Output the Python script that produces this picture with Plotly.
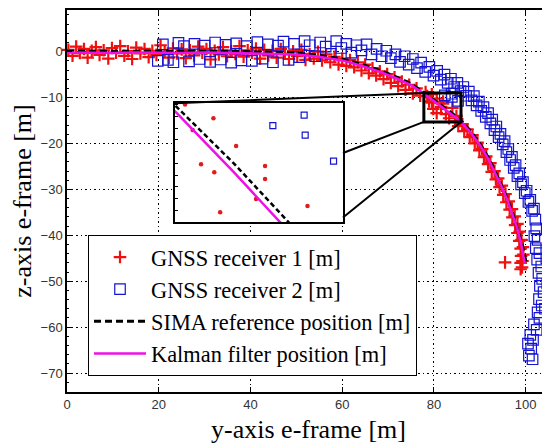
import plotly.graph_objects as go

# ---------------- data (y-axis e-frame, z-axis e-frame) ----------------
sima_y = [0, 5, 10, 15, 20, 25, 30, 35, 40, 45, 50, 55, 60, 64, 68, 72, 75, 77.8, 80.5, 83.1,
          85.6, 88, 90, 91.8, 93.3, 94.7, 96, 97.1, 98.2, 99.1, 99.7, 100.1]
sima_z = [0.1, 0.1, 0.1, 0.2, 0.1, 0.1, 0.1, 0.1, 0.0, -0.1, -0.3, -0.8, -1.6, -2.7, -4.0, -5.6,
          -7.0, -8.9, -10.8, -12.8, -14.7, -17.3, -20.0, -23.0, -26.0, -29.0, -32.0, -35.0,
          -38.3, -41.5, -44.0, -46.0]

kal_y = [0, 5, 10, 15, 20, 25, 30, 35, 40, 45, 50, 55, 60, 64, 68, 72, 75, 77.8, 80.5, 83.1,
         85.6, 88, 90, 91.8, 93.3, 94.7, 96, 97.1, 98.2, 99.0, 99.5, 99.8]
kal_z = [-0.2, -0.3, -0.3, -0.2, -0.3, -0.3, -0.2, -0.3, -0.3, -0.4, -0.6, -1.1, -1.9, -3.0,
         -4.3, -5.9, -7.3, -9.1, -11.1, -13.1, -15.0, -17.6, -20.3, -23.3, -26.3, -29.3, -32.3,
         -35.3, -38.6, -41.8, -44.3, -46.2]

gnss1_y = [0.3, 1.2, 2.0, 2.8, 3.7, 4.5, 5.4, 6.3, 7.1, 8.0, 9.0, 9.8, 10.7, 11.6, 12.5, 13.3,
           14.2, 15.1, 16.0, 16.9, 17.8, 18.6, 19.5, 20.4, 21.3, 22.2, 23.1, 24.0, 25.0, 25.9,
           26.8, 27.7, 28.6, 29.5, 30.4, 31.3, 32.2, 33.1, 34.0, 34.9, 35.8, 36.7, 37.6, 38.5,
           39.4, 40.3, 41.2, 42.1, 43.0, 43.9, 44.8, 45.7, 46.6, 47.5, 48.4, 49.3, 50.2, 51.1,
           52.0, 52.9, 53.8, 54.7,
           55.6, 56.5, 57.4, 58.3, 59.2, 60.0, 60.9, 61.7, 62.6, 63.4, 64.2, 65.0, 65.8, 66.6,
           67.4, 68.2, 69.0, 69.8, 70.6, 71.4, 72.2, 73.0, 73.8, 74.6, 75.4, 76.2, 77.0,
           78.18, 79.53, 78.54, 80.61, 78.94, 79.57, 81.99, 81.99, 81.56, 79.85, 84.01,
           80.6, 82.6, 83.3, 84.6, 85.3, 84.9,
           86.2, 86.6, 87.3, 87.8, 88.4, 88.9, 89.5, 89.9, 90.5, 90.9, 91.4, 91.8, 92.3, 92.6,
           93.2, 93.5, 94.0, 94.3, 94.8, 95.1, 95.6, 95.8, 96.3, 96.5, 97.0, 97.1, 97.6, 97.7,
           98.2, 98.2, 98.7, 98.6, 99.1, 98.9, 99.4, 99.0, 99.5, 98.9, 99.3, 98.9, 99.2, 95.5]
gnss1_z = [0.4, -0.9, 1.1, -0.3, 0.6, -1.3, 0.2, 1.0, -0.7, 0.3, -1.5, 0.8, -0.2, 1.2, -0.9, 0.1,
           -1.6, 0.9, -0.4, 0.6, -1.2, 0.2, -0.7, 1.4, 0.0, -1.3, 0.7, -0.4, 0.5, -1.4,
           0.3, -0.8, 1.1, -0.2, 0.6, -1.7, 0.2, -0.6, 1.0, -1.0, 0.1, -0.5, 1.2, -1.1,
           0.3, -0.2, 0.7, -1.5, 0.4, -0.8, 0.2, -1.3, 0.6, -0.4, -1.6, 0.1, -1.0, 0.4,
           -1.8, -0.5, -1.5, 0.0,
           -1.9, -0.6, -2.3, -1.1, -2.8, -1.5, -3.1, -1.8, -3.4, -2.3, -4.1, -2.8, -4.7, -3.6,
           -5.2, -4.3, -6.0, -4.9, -6.8, -5.6, -7.5, -6.5, -8.3, -7.2, -9.1, -8.0, -9.6,
           -8.80, -9.27, -9.67, -10.21, -10.83, -11.10, -10.89, -11.33, -12.01, -12.46, -12.25,
           -13.4, -13.6, -14.5, -15.2, -16.2, -14.0,
           -15.8, -17.3, -16.9, -18.6, -18.2, -20.0, -19.8, -21.5, -21.2, -23.0, -22.8, -24.5,
           -24.3, -26.2, -26.0, -27.8, -27.6, -29.5, -29.2, -31.2, -31.0, -32.8, -32.6, -34.4,
           -34.3, -36.1, -35.9, -37.8, -37.5, -39.5, -39.2, -41.2, -41.0, -42.9, -42.6, -44.5,
           -44.2, -46.0, -45.6, -47.4, -47.0, -45.9]

gnss2_y = [19.8, 20.9, 22.0, 23.2, 24.3, 25.5, 26.6, 27.8, 28.9, 30.0, 31.2, 32.3, 33.5, 34.6,
           35.8, 36.9, 38.0, 39.2, 40.3, 41.5, 42.6, 43.8, 44.9, 46.0, 47.2, 48.3, 49.5, 50.6,
           51.8, 52.9, 54.1, 55.2, 56.4, 57.5, 58.7, 59.8, 60.9, 62.0, 63.1, 64.2, 65.3, 66.4,
           67.5, 68.6, 69.6, 70.6, 71.6, 72.6, 73.6, 74.5, 75.4, 76.3, 77.2, 78.1, 79.0, 79.9,
           80.7, 81.5, 82.3,
           82.36, 83.85, 83.90, 85.25,
           83.0, 83.7, 84.4, 85.1, 85.8, 86.4, 87.0, 87.6, 88.2, 88.7, 89.3, 89.8, 90.3, 90.8,
           91.3, 91.8, 92.3, 92.7, 93.2, 93.6, 94.1, 94.5, 95.0, 95.4, 95.8, 96.2, 96.6, 97.0,
           97.4, 97.8, 98.2, 98.6, 99.0, 99.4, 99.8, 100.2, 100.6, 101.0, 101.4, 101.8, 102.1,
           102.3, 101.9, 102.6, 102.2, 103.0, 102.5, 103.4, 102.8, 103.6, 103.1, 103.9, 102.9,
           103.5, 102.6, 103.0, 101.8, 102.4, 101.0, 101.6, 100.5, 101.2, 100.7, 101.5,
           104.5, 104.7, 104.2]
gnss2_z = [-2.0, 1.6, -1.8, -2.3, 1.9, 1.2, -2.1, 1.7, -1.6, 1.3, -2.2, 2.0, -1.7, 1.5,
           -2.4, 1.8, -1.9, 1.2, -2.0, 2.1, -1.5, 1.6, -2.3, 1.3, 2.2, -1.8, 1.7, -1.2,
           2.3, 1.4, -1.0, 2.0, 1.1, -0.5, 2.3, 0.8, 1.7, -0.2, 1.4, 0.3, 1.6, -0.6,
           0.6, -1.0, 0.2, -1.4, -0.6, -2.2, -1.0, -2.8, -1.6, -3.6, -2.4, -4.4, -3.3, -5.2,
           -4.2, -6.1, -5.0,
           -9.52, -9.16, -9.84, -10.72,
           -6.8, -5.9, -7.7, -6.8, -8.6, -7.7, -9.6, -8.7, -10.6, -9.7, -11.7, -10.9, -12.9, -12.1,
           -14.2, -13.4, -15.6, -14.8, -17.1, -16.3, -18.6, -17.9, -20.2, -19.5, -21.9, -21.2,
           -23.6, -22.9, -25.3, -24.7, -27.1, -26.5, -28.9, -28.4, -30.8, -30.3, -32.7, -32.3,
           -34.7, -34.2, -36.6, -38.5, -40.2, -41.0, -42.8, -43.9, -45.3, -46.8, -48.2, -49.5,
           -51.0, -52.4, -53.9, -55.3, -56.8, -58.0, -59.4, -60.6, -61.7, -62.8, -63.6, -64.7,
           -66.2, -67.0,
           -45.0, -50.5, -56.0]

x_ticks = [0, 20, 40, 60, 80, 100]
y_ticks = [0, -10, -20, -30, -40, -50, -60, -70]

legend_names = ["GNSS receiver 1 [m]", "GNSS receiver 2 [m]",
                "SIMA reference position [m]", "Kalman filter position [m]"]

# ---------------- layout constants ----------------
X_RANGE = [0, 105.3]
Y_RANGE = [-74.14, 9.08]
INSET_X = [77.7, 85.7]
INSET_Y = [-12.8, -8.76]
ZOOM_BOX = (77.8, 85.9, -15.3, -9.0)   # x0, x1, y0, y1 (data)
INSET_DX = [0.2236, 0.5714]
INSET_DY = [0.4442, 0.7558]

RED = "#f01010"
BLUE = "#1414d2"
MAG = "#ee10e6"

fig = go.Figure()

# main traces
fig.add_trace(go.Scatter(x=gnss1_y, y=gnss1_z, mode="markers", name=legend_names[0],
                         legendgroup="a", cliponaxis=False,
                         marker=dict(symbol="cross-thin", size=9, color=RED,
                                     line=dict(color=RED, width=2.2))))
fig.add_trace(go.Scatter(x=gnss2_y, y=gnss2_z, mode="markers", name=legend_names[1],
                         legendgroup="b", cliponaxis=False,
                         marker=dict(symbol="square-open", size=10.5, color=BLUE,
                                     line=dict(color=BLUE, width=1.2))))
fig.add_trace(go.Scatter(x=sima_y, y=sima_z, mode="lines", name=legend_names[2],
                         legendgroup="c", line=dict(color="black", width=3, dash="7px,4px")))
fig.add_trace(go.Scatter(x=kal_y, y=kal_z, mode="lines", name=legend_names[3],
                         legendgroup="d", line=dict(color=MAG, width=2.5)))

# inset traces (same data, zoomed)
fig.add_trace(go.Scatter(x=gnss1_y, y=gnss1_z, mode="markers", xaxis="x2", yaxis="y2",
                         showlegend=False,
                         marker=dict(symbol="circle", size=4.5, color="#e01c1c")))
fig.add_trace(go.Scatter(x=gnss2_y, y=gnss2_z, mode="markers", xaxis="x2", yaxis="y2",
                         showlegend=False,
                         marker=dict(symbol="square-open", size=6, color=BLUE,
                                     line=dict(color=BLUE, width=1.2))))
fig.add_trace(go.Scatter(x=sima_y, y=sima_z, mode="lines", xaxis="x2", yaxis="y2",
                         showlegend=False,
                         line=dict(color="black", width=2.5, dash="5px,3px")))
fig.add_trace(go.Scatter(x=kal_y, y=kal_z, mode="lines", xaxis="x2", yaxis="y2",
                         showlegend=False, line=dict(color=MAG, width=2.5)))

tick_font = dict(family="Liberation Sans, Arial", size=13, color="#333")
title_font = dict(family="Liberation Serif, Times New Roman", size=26, color="black")
grid = dict(showgrid=True, gridcolor="black", gridwidth=1, griddash="1.5px,3px")

# the page body keeps an 8px margin, so the figure is 8px smaller on each axis
fig.update_layout(
    template="none",
    width=542, height=438,
    margin=dict(l=59, r=0, t=2, b=54, autoexpand=False),
    paper_bgcolor="white", plot_bgcolor="white",
    showlegend=True,
    xaxis=dict(range=X_RANGE, tickvals=x_ticks, ticks="inside", ticklen=5, tickcolor="black",
               showline=True, linecolor="black", linewidth=1.5, mirror="ticks",
               tickfont=tick_font, zeroline=False, automargin=False,
               title=dict(text="y-axis e-frame [m]", font=title_font, standoff=8), **grid),
    yaxis=dict(range=Y_RANGE, tickvals=y_ticks, ticks="inside", ticklen=5, tickcolor="black",
               showline=True, linecolor="black", linewidth=1.5, mirror=False,
               tickfont=tick_font, zeroline=False, automargin=False,
               minor=dict(dtick=2, ticks="inside", ticklen=2.5, tickcolor="black", showgrid=False),
               title=dict(text="z-axis e-frame [m]", font=title_font, standoff=6), **grid),
    xaxis2=dict(domain=INSET_DX, range=INSET_X, anchor="y2", showgrid=False, zeroline=False,
                showticklabels=False, ticks="", showline=True, linecolor="black",
                linewidth=2, mirror=True, automargin=False),
    yaxis2=dict(domain=INSET_DY, range=INSET_Y, anchor="x2", showgrid=False, zeroline=False,
                showticklabels=False, ticks="inside", ticklen=3, dtick=0.4, tickcolor="black",
                showline=True, linecolor="black", linewidth=2, mirror=True, automargin=False),
    legend=dict(x=0.0435, y=0.411, xanchor="left", yanchor="top",
                bgcolor="white", bordercolor="black", borderwidth=1,
                font=dict(family="Liberation Serif, Times New Roman", size=22.4, color="black"),
                tracegroupgap=5.5, itemwidth=52, traceorder="normal"),
)


def to_paper(x, y):
    return ((x - X_RANGE[0]) / (X_RANGE[1] - X_RANGE[0]),
            (y - Y_RANGE[0]) / (Y_RANGE[1] - Y_RANGE[0]))


bx0, bx1, by0, by1 = ZOOM_BOX
fig.add_shape(type="rect", xref="x", yref="y", x0=bx0, x1=bx1, y0=by0, y1=by1,
              line=dict(color="black", width=3))

connectors = [
    ((INSET_DX[0], INSET_DY[1]), to_paper(bx0, by1)),
    ((INSET_DX[1], INSET_DY[1] - 0.418 * (INSET_DY[1] - INSET_DY[0])), to_paper(bx0, by0)),
    ((INSET_DX[1], INSET_DY[1] - 0.96 * (INSET_DY[1] - INSET_DY[0])), to_paper(bx1, by0)),
]
for (p0, p1) in connectors:
    fig.add_shape(type="line", xref="paper", yref="paper", x0=p0[0], y0=p0[1],
                  x1=p1[0], y1=p1[1], line=dict(color="black", width=2))

fig.write_html("out.html")
